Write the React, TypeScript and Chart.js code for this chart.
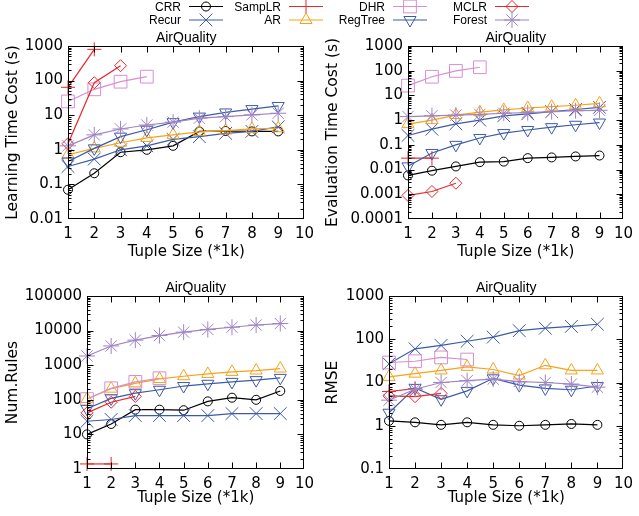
import React, { useEffect, useRef } from 'react';
import { Chart, registerables } from 'chart.js';
Chart.register(...registerables);

// ---------------- data ----------------
const xValues = [1, 2, 3, 4, 5, 6, 7, 8, 9];
const xTicks = [1, 2, 3, 4, 5, 6, 7, 8, 9, 10];
const panelTitle = 'AirQuality';
const xTitle = 'Tuple Size (*1k)';

const seriesNames = ['CRR', 'Recur', 'SampLR', 'AR', 'DHR', 'RegTree', 'MCLR', 'Forest'];

// Learning Time Cost (s)
const learnTicks = [0.01, 0.1, 1, 10, 100, 1000];
const learnCRR = [0.07, 0.21, 0.85, 1.0, 1.3, 3.4, 3.5, 3.4, 3.4];
const learnRecur = [0.33, 0.54, 1.0, 1.3, 2.0, 2.4, 3.0, 3.4, 4.6];
const learnSampLR = [64, 800];
const learnAR = [0.72, 1.1, 1.6, 2.2, 2.7, 3.3, 3.6, 4.0, 4.2];
const learnDHR = [25, 56, 93, 130];
const learnRegTree = [0.46, 1.1, 2.4, 3.8, 6.3, 9.1, 12, 15, 18.5];
const learnMCLR = [1.5, 87, 270];
const learnForest = [1.3, 2.7, 4.0, 5.2, 6.3, 8.2, 9.1, 10.2, 11.4];

// Evaluation Time Cost (s)
const evalTicks = [0.0001, 0.001, 0.01, 0.1, 1, 10, 100, 1000];
const evalCRR = [0.0058, 0.009, 0.0134, 0.02, 0.021, 0.029, 0.031, 0.034, 0.037];
const evalRecur = [0.24, 0.43, 0.71, 1.0, 1.5, 1.8, 2.2, 2.7, 3.3];
const evalSampLR = [0.029, 0.029];
const evalAR = [0.69, 1.0, 1.6, 2.1, 2.6, 3.1, 3.5, 4.0, 4.8];
const evalDHR = [25, 57, 98, 138];
const evalRegTree = [0.0135, 0.047, 0.1, 0.19, 0.3, 0.4, 0.52, 0.65, 0.8];
const evalMCLR = [0.0009, 0.0013, 0.0028];
const evalForest = [1.4, 1.5, 1.6, 1.7, 1.9, 2.0, 2.2, 2.4, 2.5];

// Num.Rules
const rulesTicks = [1, 10, 100, 1000, 10000, 100000];
const rulesCRR = [10, 20, 52, 52, 50, 90, 115, 100, 180];
const rulesRecur = [24, 27, 35, 35, 35, 35, 40, 40, 40];
const rulesSampLR = [1.4, 1.4];
const rulesAR = [105, 210, 300, 400, 480, 560, 640, 700, 800];
const rulesDHR = [105, 215, 330, 420];
const rulesRegTree = [55, 110, 155, 195, 250, 290, 330, 370, 430];
const rulesMCLR = [42, 85, 125];
const rulesForest = [1850, 3600, 5300, 7200, 9000, 10800, 12500, 14500, 16000];

// RMSE
const rmseTicks = [0.1, 1, 10, 100, 1000];
const rmseCRR = [1.3, 1.2, 1.05, 1.2, 1.05, 1.0, 1.05, 1.1, 1.05];
const rmseRecur = [27, 60, 72, 90, 112, 158, 180, 198, 222];
const rmseSampLR = [6.2, 7.2];
const rmseAR = [13.5, 16, 19, 23, 20, 14.5, 25, 19, 19];
const rmseDHR = [29, 31, 38, 34];
const rmseRegTree = [2.0, 7.5, 4.1, 6.4, 12.5, 8.7, 7.3, 6.8, 8.3];
const rmseMCLR = [4.9, 4.7, 5.6];
const rmseForest = [3.9, 7.0, 10, 11, 12, 10.5, 10, 9.2, 7.8];

// ---------------- styles ----------------
const FONT = '"Liberation Sans", Arial, Helvetica, sans-serif';
const AXFONT = '"DejaVu Sans", sans-serif';
const BLUE = '#3c5aa8';
const RED = '#e8262b';
const seriesColors = ['#000000', BLUE, RED, '#f7a21b', '#d68fd0', BLUE, RED, '#a184c4'];
const seriesMarkers = [
  { style: 'circle', r: 4.5, rot: 0 },
  { style: 'crossRot', r: 9, rot: 0 },
  { style: 'cross', r: 7, rot: 0 },
  { style: 'triangle', r: 7, rot: 0 },
  { style: 'rect', r: 9, rot: 0 },
  { style: 'triangle', r: 7, rot: 180 },
  { style: 'rectRot', r: 6, rot: 0 },
  { style: 'star', r: 8, rot: 0 },
];

const framePlugin = {
  id: 'frame',
  afterDraw(chart: any, _args: any, opts: any) {
    const { ctx, chartArea: a, scales } = chart;
    const xs = scales.x;
    const ys = scales.y;
    const L = Math.round(a.left) + 0.5;
    const R = Math.round(a.right) - 0.5;
    const T = Math.round(a.top) + 0.5;
    const B = Math.round(a.bottom) - 0.5;
    ctx.save();
    ctx.strokeStyle = '#000';
    ctx.lineWidth = 1;
    ctx.beginPath();
    const major = 6;
    const minor = 3;
    for (const v of xTicks) {
      if (v <= xs.min || v >= xs.max) continue;
      const px = Math.round(xs.getPixelForValue(v)) + 0.5;
      ctx.moveTo(px, B);
      ctx.lineTo(px, B - major);
      ctx.moveTo(px, T);
      ctx.lineTo(px, T + major);
    }
    const kMin = Math.round(Math.log10(ys.min));
    const kMax = Math.round(Math.log10(ys.max));
    for (let k = kMin; k < kMax; k++) {
      for (let m = 1; m <= 9; m++) {
        const v = m * Math.pow(10, k);
        const py = Math.round(ys.getPixelForValue(v)) + 0.5;
        const len = m === 1 ? major : minor;
        if (m === 1 && k === kMin) continue;
        ctx.moveTo(L, py);
        ctx.lineTo(L + len, py);
        ctx.moveTo(R, py);
        ctx.lineTo(R - len, py);
      }
    }
    ctx.stroke();
    ctx.strokeRect(L, T, R - L, B - T);
    ctx.fillStyle = '#000';
    ctx.font = `14px ${FONT}`;
    ctx.textAlign = 'center';
    ctx.textBaseline = 'alphabetic';
    ctx.fillText(opts.title, (a.left + a.right) / 2, a.top - 4);
    ctx.restore();
  },
};

type PanelProps = {
  box: { x: number; y: number; w: number; h: number };
  area: { left: number; right: number; top: number; bottom: number };
  xTitlePad: number;
  yTitle: string;
  yTicks: number[];
  series: number[][];
};

function Panel({ box, area, xTitlePad, yTitle, yTicks, series }: PanelProps) {
  const ref = useRef<HTMLCanvasElement>(null);
  useEffect(() => {
    const canvas = ref.current as HTMLCanvasElement;
    const chart = new Chart(canvas, {
      type: 'line',
      data: {
        datasets: series.map((vals, i) => ({
          label: seriesNames[i],
          data: vals.map((v, j) => ({ x: xValues[j], y: v })),
          borderColor: seriesColors[i],
          backgroundColor: 'rgba(0,0,0,0)',
          pointBackgroundColor: 'rgba(0,0,0,0)',
          pointBorderColor: seriesColors[i],
          pointStyle: seriesMarkers[i].style as any,
          pointRadius: seriesMarkers[i].r,
          pointRotation: seriesMarkers[i].rot,
          pointBorderWidth: 1,
          borderWidth: 1.2,
          tension: 0,
          clip: false as any,
          order: 10 - i,
        })),
      },
      options: {
        responsive: false,
        animation: false,
        devicePixelRatio: 1,
        events: [],
        layout: { padding: { left: 0, top: area.top, right: box.w - area.right, bottom: 0 } },
        plugins: {
          legend: { display: false },
          tooltip: { enabled: false },
          title: { display: false },
          frame: { title: panelTitle },
        } as any,
        scales: {
          x: {
            type: 'linear',
            min: 1,
            max: 10,
            grid: { display: false, drawTicks: false },
            border: { display: false },
            afterBuildTicks: (s: any) => {
              s.ticks = xTicks.map((v) => ({ value: v }));
            },
            afterFit: (s: any) => {
              s.height = box.h - area.bottom;
            },
            ticks: {
              padding: 6,
              autoSkip: false,
              maxRotation: 0,
              color: '#000',
              font: { family: AXFONT, size: 15 },
              callback: (v: any) => String(v),
            },
            title: {
              display: true,
              text: xTitle,
              color: '#000',
              font: { family: AXFONT, size: 15 },
              padding: { top: 0, bottom: xTitlePad },
            },
          },
          y: {
            type: 'logarithmic',
            min: yTicks[0],
            max: yTicks[yTicks.length - 1],
            grid: { display: false, drawTicks: false },
            border: { display: false },
            afterBuildTicks: (s: any) => {
              s.ticks = yTicks.map((v) => ({ value: v }));
            },
            afterFit: (s: any) => {
              s.width = area.left;
            },
            ticks: {
              padding: 5,
              autoSkip: false,
              color: '#000',
              font: { family: AXFONT, size: 15 },
              callback: (v: any) => String(v),
            },
            title: {
              display: true,
              text: yTitle,
              color: '#000',
              font: { family: AXFONT, size: 15.5 },
              padding: { top: 3.5, bottom: 0 },
            },
          },
        },
      } as any,
      plugins: [framePlugin],
    });
    return () => chart.destroy();
  }, []);
  return (
    <canvas
      ref={ref}
      width={box.w}
      height={box.h}
      style={{ position: 'absolute', left: box.x, top: box.y }}
    />
  );
}

function Marker({ idx, x, y }: { idx: number; x: number; y: number }) {
  const m = seriesMarkers[idx];
  const c = seriesColors[idx];
  const r = m.r;
  const common = { stroke: c, fill: 'none', strokeWidth: 1 };
  const d = r * Math.SQRT1_2;
  switch (m.style) {
    case 'circle':
      return <circle cx={x} cy={y} r={r} {...common} />;
    case 'crossRot':
      return <path d={`M${x - d} ${y - d}L${x + d} ${y + d}M${x + d} ${y - d}L${x - d} ${y + d}`} {...common} />;
    case 'cross':
      return <path d={`M${x - r} ${y}L${x + r} ${y}M${x} ${y - r}L${x} ${y + r}`} {...common} />;
    case 'star':
      return (
        <path
          d={`M${x - r} ${y}L${x + r} ${y}M${x} ${y - r}L${x} ${y + r}M${x - d} ${y - d}L${x + d} ${y + d}M${x + d} ${y - d}L${x - d} ${y + d}`}
          {...common}
        />
      );
    case 'rect':
      return <rect x={x - d} y={y - d} width={2 * d} height={2 * d} {...common} />;
    case 'rectRot':
      return <path d={`M${x - r} ${y}L${x} ${y - r}L${x + r} ${y}L${x} ${y + r}Z`} {...common} />;
    case 'triangle': {
      const s = m.rot === 180 ? -1 : 1;
      const h = r * 0.5;
      const w = r * Math.sin(Math.PI / 3);
      return <path d={`M${x} ${y - s * r}L${x + w} ${y + s * h}L${x - w} ${y + s * h}Z`} {...common} />;
    }
  }
  return null;
}

const legendTextRight = [181, 281, 385, 487];

function Legend() {
  return (
    <svg width={639} height={28} style={{ position: 'absolute', left: 0, top: 0 }}>
      {seriesNames.map((name, i) => {
        const col = Math.floor(i / 2);
        const row = i % 2;
        const tr = legendTextRight[col];
        const ly = row ? 20 : 6.5;
        return (
          <g key={name}>
            <text x={tr} y={ly + 4.3} textAnchor="end" fontFamily={FONT} fontSize={12} fill="#000">
              {name}
            </text>
            <line x1={tr + 8} x2={tr + 42} y1={ly} y2={ly} stroke={seriesColors[i]} strokeWidth={1.2} />
            <Marker idx={i} x={tr + 25} y={ly} />
          </g>
        );
      })}
    </svg>
  );
}

export default function App() {
  return (
    <div style={{ position: 'absolute', left: 0, top: 0, width: 639, height: 516, background: '#fff' }}>
      <Panel
        box={{ x: 0, y: 0, w: 320, h: 262 }}
        area={{ left: 68, right: 306, top: 46, bottom: 219 }}
        xTitlePad={1}
        yTitle="Learning Time Cost (s)"
        yTicks={learnTicks}
        series={[learnCRR, learnRecur, learnSampLR, learnAR, learnDHR, learnRegTree, learnMCLR, learnForest]}
      />
      <Panel
        box={{ x: 320, y: 0, w: 319, h: 262 }}
        area={{ left: 88, right: 307, top: 46, bottom: 219 }}
        xTitlePad={1}
        yTitle="Evaluation Time Cost (s)"
        yTicks={evalTicks}
        series={[evalCRR, evalRecur, evalSampLR, evalAR, evalDHR, evalRegTree, evalMCLR, evalForest]}
      />
      <Panel
        box={{ x: 0, y: 258, w: 320, h: 258 }}
        area={{ left: 87, right: 306, top: 38, bottom: 211 }}
        xTitlePad={9}
        yTitle="Num.Rules"
        yTicks={rulesTicks}
        series={[rulesCRR, rulesRecur, rulesSampLR, rulesAR, rulesDHR, rulesRegTree, rulesMCLR, rulesForest]}
      />
      <Panel
        box={{ x: 320, y: 258, w: 319, h: 258 }}
        area={{ left: 69, right: 307, top: 38, bottom: 211 }}
        xTitlePad={9}
        yTitle="RMSE"
        yTicks={rmseTicks}
        series={[rmseCRR, rmseRecur, rmseSampLR, rmseAR, rmseDHR, rmseRegTree, rmseMCLR, rmseForest]}
      />
      <Legend />
    </div>
  );
}
